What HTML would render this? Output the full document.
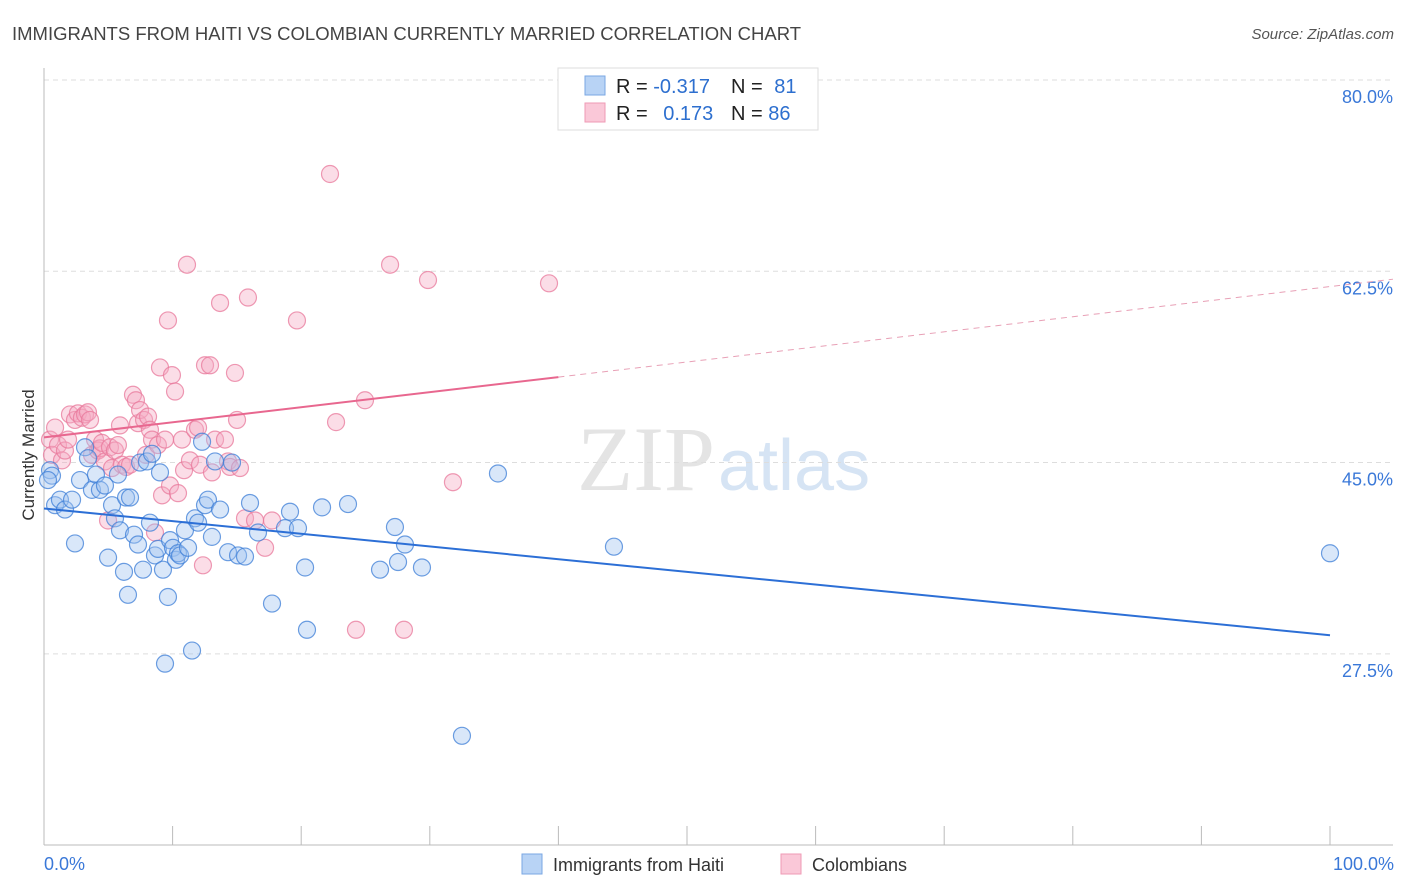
<!DOCTYPE html>
<html><head><meta charset="utf-8"><style>
body{margin:0;background:#fff;font-family:"Liberation Sans",sans-serif;}
svg{display:block}
</style></head><body>
<svg id="chart" width="1406" height="892">
<text x="12" y="40" font-size="18.5" fill="#444">IMMIGRANTS FROM HAITI VS COLOMBIAN CURRENTLY MARRIED CORRELATION CHART</text>
<text x="1394" y="39" font-size="15" fill="#555" font-style="italic" text-anchor="end">Source: ZipAtlas.com</text>
<text x="715" y="490" font-size="92" fill="#e4e4e4" text-anchor="end" font-family="Liberation Serif, serif">ZIP</text>
<text x="718" y="490" font-size="72" fill="#d6e4f4">atlas</text>
<g id="grid"></g>
<g id="axes"></g>
<g id="pts"></g>
<g id="lines"></g>
<text x="34" y="455" font-size="17" fill="#333" text-anchor="middle" transform="rotate(-90 34 455)">Currently Married</text>
<g>
<rect x="558" y="68" width="260" height="62" fill="#fff" stroke="#ddd"/>
<rect x="585" y="76" width="20" height="19" fill="#b8d3f5" stroke="#7aa7e3"/>
<rect x="585" y="103" width="20" height="19" fill="#fac8d8" stroke="#ef9ab5"/>
<text x="616" y="93" font-size="20" fill="#222">R = <tspan fill="#2d6fcf">-0.317</tspan></text>
<text x="731" y="93" font-size="20" fill="#222">N = <tspan fill="#2d6fcf" dx="6">81</tspan></text>
<text x="616" y="120" font-size="20" fill="#222">R = <tspan fill="#2d6fcf" dx="10">0.173</tspan></text>
<text x="731" y="120" font-size="20" fill="#222">N = <tspan fill="#2d6fcf">86</tspan></text>
</g>
<g>
<rect x="522" y="854" width="20" height="20" fill="#b8d3f5" stroke="#7aa7e3"/>
<text x="553" y="871" font-size="18" fill="#333">Immigrants from Haiti</text>
<rect x="781" y="854" width="20" height="20" fill="#fac8d8" stroke="#ef9ab5"/>
<text x="812" y="871" font-size="18" fill="#333">Colombians</text>
</g>
</svg>
<script>
const yTicks=[80,62.5,45,27.5];
const xTickLabels=["0.0%","100.0%"];
const blueX=[0.47,0.62,0.31,0.86,1.24,1.63,2.18,2.41,2.80,3.19,3.42,3.73,4.04,4.35,4.74,4.98,5.29,5.52,5.75,5.91,6.22,6.38,6.53,6.69,7.00,7.31,7.47,7.70,8.01,8.24,8.40,8.63,8.86,9.02,9.25,9.41,9.64,9.80,10.03,10.26,10.42,10.58,10.96,11.20,11.51,11.74,11.98,12.29,12.52,12.75,13.06,13.30,13.69,14.31,14.62,15.09,15.63,16.02,16.64,17.73,18.74,19.13,19.75,20.30,20.45,21.62,23.64,26.13,27.29,27.53,28.07,29.39,32.50,35.30,44.32,100];
const blueY=[44.3,43.8,43.4,41.1,41.6,40.7,41.6,37.6,43.4,46.4,45.4,42.5,43.9,42.5,42.9,36.3,41.1,39.9,43.9,38.8,35.0,41.8,32.9,41.8,38.4,37.5,45.0,35.2,45.1,39.5,45.8,36.5,37.1,44.1,35.2,26.6,32.7,37.9,37.2,36.1,36.7,36.5,38.8,37.2,27.8,39.9,39.5,46.9,41.1,41.6,38.2,45.1,40.7,36.8,45.0,36.5,36.4,41.3,38.6,32.1,39.0,40.5,39.0,35.4,29.7,40.9,41.2,35.2,39.1,35.9,37.5,35.4,20.0,44.0,37.3,36.7];
const pinkX=[0.47,0.62,0.86,1.09,1.40,1.63,1.87,2.02,2.41,2.64,2.95,3.19,3.42,3.58,3.73,3.97,4.20,4.35,4.51,4.74,4.98,5.13,5.29,5.52,5.75,5.91,6.07,6.38,6.69,6.92,7.15,7.31,7.47,7.78,7.93,8.09,8.24,8.40,8.63,8.86,9.02,9.18,9.41,9.64,9.80,9.95,10.19,10.42,10.73,10.89,11.12,11.35,11.74,11.98,12.13,12.36,12.52,12.91,13.06,13.30,13.69,14.07,14.31,14.46,14.85,15.01,15.24,15.63,15.86,16.41,17.19,17.73,19.67,22.24,22.71,24.26,24.96,26.91,27.99,29.86,31.80,39.27];
const pinkY=[47.1,45.7,48.2,46.6,45.2,46.1,47.1,49.4,48.9,49.5,49.1,49.4,49.6,48.9,45.7,47.1,46.1,46.3,46.8,45.1,39.7,46.4,44.5,46.1,46.6,48.4,44.8,44.6,44.8,51.2,50.7,48.6,49.8,48.9,45.7,49.2,48.0,47.1,38.6,46.6,53.7,42.0,47.1,58.0,42.9,53.0,51.5,42.2,47.1,44.3,63.1,45.2,48.0,48.2,44.8,35.6,53.9,53.9,44.1,47.1,59.6,47.1,45.1,44.6,53.2,48.9,44.5,39.9,60.1,39.7,37.2,39.7,58.0,71.4,48.7,29.7,50.7,63.1,29.7,61.7,43.2,61.4];
const blueTrend=[40.8,29.2];
const pinkTrend=[47.3,61.1];
const pinkSolidEnd=40;
const NS="http://www.w3.org/2000/svg";
const sx=v=>44+v*12.86;
const sy=v=>80+(80-v)*10.93;
function mk(tag,attrs,parent){const e=document.createElementNS(NS,tag);for(const k in attrs)e.setAttribute(k,attrs[k]);parent.appendChild(e);return e;}
const grid=document.getElementById('grid'),axes=document.getElementById('axes'),pts=document.getElementById('pts'),lines=document.getElementById('lines');
yTicks.forEach(t=>{
 const l=mk('line',{x1:44,x2:1393,y1:sy(t),y2:sy(t),stroke:'#ddd','stroke-dasharray':'5,4'},grid);
 
 
 const tx=mk('text',{x:1393,y:sy(t)+23,'font-size':18,fill:'#3a78d8','text-anchor':'end'},axes);
 tx.textContent=t.toFixed(1)+'%';
 
 
});
const ax=mk('line',{x1:44,x2:1393,y1:845,y2:845,stroke:'#bbb'},axes);


const ay=mk('line',{x1:44,x2:44,y1:68,y2:845,stroke:'#bbb'},axes);


for(let i=0;i<=10;i++){const t=mk('line',{x1:sx(i*10),x2:sx(i*10),y1:826,y2:845,stroke:'#bbb'},axes);
 
 }
const xl0=mk('text',{x:44,y:870,'font-size':18,fill:'#3a78d8'},axes);xl0.textContent=xTickLabels[0];


const xl1=mk('text',{x:1394,y:870,'font-size':18,fill:'#3a78d8','text-anchor':'end'},axes);xl1.textContent=xTickLabels[1];


pinkX.forEach((x,i)=>{const c=mk('circle',{cx:sx(x),cy:sy(pinkY[i]),r:8.5,fill:'rgba(246,170,195,0.4)',stroke:'rgba(232,120,155,0.75)','stroke-width':1.2},pts);
 
 });
blueX.forEach((x,i)=>{const c=mk('circle',{cx:sx(x),cy:sy(blueY[i]),r:8.5,fill:'rgba(160,196,240,0.4)',stroke:'rgba(60,125,215,0.75)','stroke-width':1.2},pts);
 
 });
const bl=mk('line',{x1:sx(0),y1:sy(blueTrend[0]),x2:sx(100),y2:sy(blueTrend[1]),stroke:'#2c6fd6','stroke-width':2},lines);


const pe=pinkTrend[0]+(pinkTrend[1]-pinkTrend[0])*pinkSolidEnd/100;
const pl=mk('line',{x1:sx(0),y1:sy(pinkTrend[0]),x2:sx(pinkSolidEnd),y2:sy(pe),stroke:'#e8678f','stroke-width':2},lines);


const pd=mk('line',{x1:sx(pinkSolidEnd),y1:sy(pe),x2:1393,y2:sy(pinkTrend[0]+(pinkTrend[1]-pinkTrend[0])*((1393-44)/12.86)/100),stroke:'#e8a0b6','stroke-width':1,'stroke-dasharray':'6,5'},lines);


</script>
</body></html>
